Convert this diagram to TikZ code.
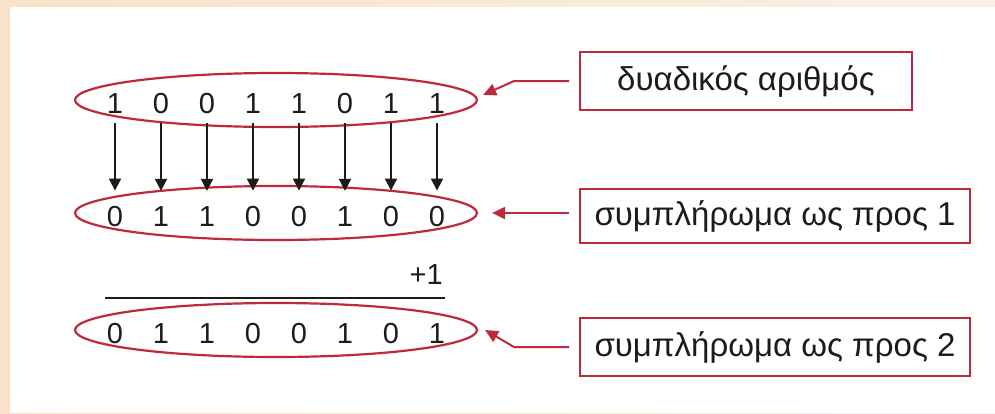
\documentclass[tikz,border=0pt]{standalone}
\usepackage{fontspec}
\setmainfont{Liberation Sans}
\usetikzlibrary{arrows.meta,calc,shapes.geometric}
\definecolor{ringred}{HTML}{BE2A3C}
\definecolor{ink}{HTML}{1C1C1C}
\definecolor{paper}{HTML}{F9E2C8}
\definecolor{paperlight}{HTML}{F7F1E6}
\tikzset{
  digit/.style={font=\fontsize{29}{29}\selectfont,text=ink,inner sep=0pt,anchor=base},
  ring/.style={ellipse,draw=ringred,line width=2.2pt,inner sep=0pt,
    minimum width=402pt,minimum height=54pt},
  labelbox/.style={draw=ringred,line width=2pt,text=ink,inner sep=0pt,
    font=\fontsize{33}{33}\selectfont,minimum height=58pt},
  flip/.style={draw=ink,line width=2pt,-{Triangle[length=12pt,width=12pt]},
    shorten <=10pt,shorten >=15pt},
  pointer/.style={draw=ringred,line width=2pt,-{Triangle[length=13pt,width=12pt]},
    shorten <=10pt},
  sumline/.style={draw=ink,line width=2pt}}
\begin{document}
\begin{tikzpicture}[x=1pt,y=-1pt]
\useasboundingbox (0,0) rectangle (995,413);
\shade[left color=paper,right color=paperlight] (0,0) rectangle (995,413);
\fill[white] (10,7) rectangle (995,413);
% the three rows of bits
\node[ring] (e1) at (276,100) {};
\node[ring] (e2) at (276,213) {};
\node[ring] (e3) at (276,330) {};
\foreach \d [count=\i] in {1,0,0,1,1,0,1,1}
  \node[digit] (t\i) at (115+46*\i-46,113) {\d};
\foreach \d [count=\i] in {0,1,1,0,0,1,0,0}
  \node[digit] (m\i) at (115+46*\i-46,226) {\d};
\foreach \d [count=\i] in {0,1,1,0,0,1,0,1}
  \node[digit] (b\i) at (115+46*\i-46,343) {\d};
\foreach \i in {1,...,8} \draw[flip] (t\i.south) -- (m\i.north);
% adding one
\coordinate (sumL) at (105,298);\coordinate (sumR) at (445,298);
\draw[sumline] (sumL) -- (sumR);
\node[digit,anchor=base east] (plus) at (443,284) {+1};
% labels
\node[labelbox,minimum width=332pt] (lab1) at (746,81) {δυαδικός αριθμός};
\node[labelbox,minimum width=390pt,minimum height=54pt] (lab2) at (775,216) {συμπλήρωμα ως προς 1};
\node[labelbox,minimum width=390pt] (lab3) at (775,347) {συμπλήρωμα ως προς 2};
\draw[pointer] (lab1.west) -- ++(-65,0) -- ($(e1.east)+(5,-5)$);
\draw[pointer] (lab2.west|-e2) -- ($(e2.east)+(14,0)$);
\draw[pointer] (lab3.west) -- ++(-65,0) -- ($(e3.east)+(7,0)$);
\end{tikzpicture}
\end{document}
